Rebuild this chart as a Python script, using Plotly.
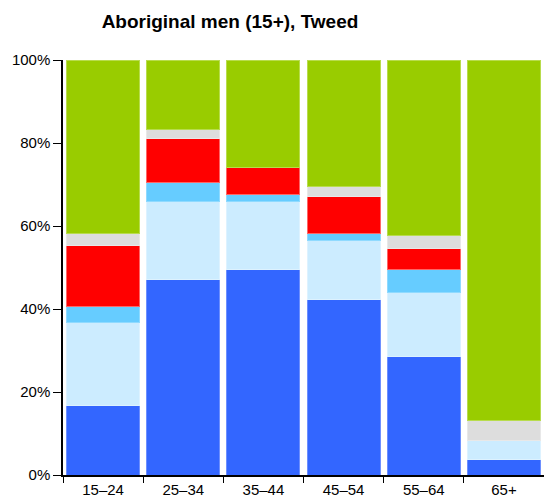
import plotly.graph_objects as go

categories = ["15–24", "25–34", "35–44", "45–54", "55–64", "65+"]

# segment shares (%)
seg1 = [16.8, 47.0, 49.4, 42.4, 28.5, 3.8]      # dark blue
seg2 = [20.0, 18.9, 16.5, 14.0, 15.4, 4.6]      # pale blue
seg3 = [3.9, 4.5, 1.6, 1.8, 5.7, 0.0]           # sky blue
seg4 = [14.6, 10.7, 6.6, 9.0, 4.9, 0.0]         # red
seg5 = [2.8, 2.1, 0.0, 2.3, 3.2, 4.7]           # grey
seg6 = [41.9, 16.8, 25.9, 30.5, 42.3, 86.9]     # green

y_ticks = [0, 20, 40, 60, 80, 100]
y_ticktext = ["0%", "20%", "40%", "60%", "80%", "100%"]

series = [seg1, seg2, seg3, seg4, seg5, seg6]
colors = ["#3366FF", "#CCECFF", "#66CCFF", "#FF0000", "#DDDDDD", "#99CC00"]
edges = ["#6D8FFF", "#DDF2FF", "#8FDAFF", "#FF6666", "#E8E8E8", "#B8DC4D"]

fig = go.Figure()
for vals, c, e in zip(series, colors, edges):
    fig.add_trace(go.Bar(
        x=categories, y=vals, marker=dict(color=c, line=dict(color=e, width=1)),
        showlegend=False, hoverinfo="skip",
    ))

fig.update_layout(
    barmode="stack",
    bargap=0.09,
    width=544, height=504,
    margin=dict(l=63, r=0, t=60, b=29),
    paper_bgcolor="white", plot_bgcolor="white",
    font=dict(family="Liberation Sans, Arial, sans-serif", size=15, color="black"),
    title=dict(text="<b>Aboriginal men (15+), Tweed</b>", x=230/544, xref="container",
               xanchor="center", y=1 - 21/504, yref="container", yanchor="middle",
               font=dict(size=19, color="black")),
)
fig.update_xaxes(
    showline=True, linecolor="black", linewidth=1.5,
    ticks="outside", ticklen=6, tickcolor="black", tickson="boundaries",
    showgrid=False, tickfont=dict(size=15),
)
fig.update_yaxes(
    range=[0, 100], tickmode="array", tickvals=y_ticks, ticktext=y_ticktext,
    showline=True, linecolor="black", linewidth=1.5,
    ticks="outside", ticklen=8, tickcolor="black",
    showgrid=False, zeroline=False, tickfont=dict(size=15),
)

fig.write_html(
    "out.html",
    config={"displayModeBar": False},
    post_script="document.body.style.margin='0';document.body.style.overflow='hidden';",
)
